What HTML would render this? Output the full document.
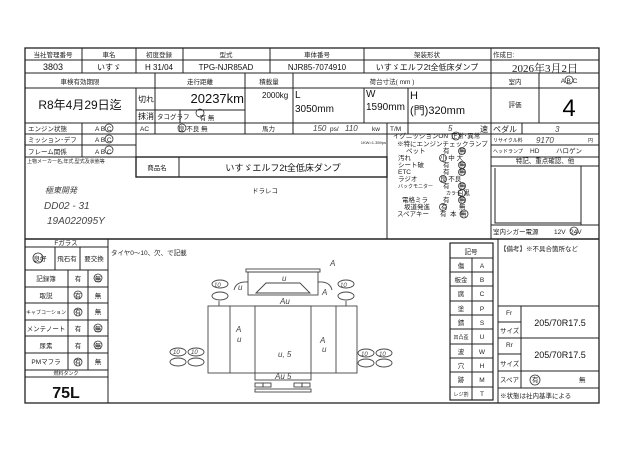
<!DOCTYPE html>
<html><head><meta charset="utf-8"><style>
html,body{margin:0;padding:0;background:#fff;}
svg{display:block;font-family:"Liberation Sans","Noto Sans CJK JP",sans-serif;}
.s{font-size:6.5px;fill:#222;}
.m{font-size:8px;fill:#111;}
.l{font-size:10px;fill:#111;}
.h{font-family:"Liberation Sans","Noto Sans CJK JP",sans-serif;fill:#444;font-style:italic;}
</style></head><body>
<svg width="640" height="453" viewBox="0 0 640 453" xmlns="http://www.w3.org/2000/svg">
<rect width="640" height="453" fill="#fff"/>
<g stroke="#222" stroke-width="1" fill="none">
<rect x="25" y="48" width="574" height="355" stroke-width="1.3"/>
<path d="M25 60H599M25 73H599M25 88H599M136 110H245M25 123H599M25 134H599M25 145H136M491 145H599M25 157H387M491 157H599M491 166H599M136 177H387M491 225H599"/>
<path d="M25 239H599" stroke-width="1.5"/>
<path d="M25 247H108M25 270H108M25 287H108M25 303H108M25 320H108M25 336H108M25 353H108M25 370H108M25 377H108"/>
<path d="M498 306H599M498 338H599M498 371H599M498 388H599M498 322H521M498 354H521"/>
<path d="M82 48V73M136 48V73M183 48V73M270 48V73M364 48V73M491 48V239M155 73V134M180 110V123M245 73V134M293 73V134M364 88V123M408 88V134M387 123V239M522 123V134M539 73V123M136 88V177M82 123V157"/>
<path d="M108 239V403M68 270V370M88 270V370M55 247V270M80 247V270M498 239V403M521 306V388"/>
<rect x="136" y="157" width="251" height="20" stroke-width="1.4"/>
<path d="M179 157V177"/>
<rect x="450" y="243" width="43" height="157" stroke-width="1.2"/>
<path d="M450 258H493M450 272H493M450 286H493M450 301H493M450 315H493M450 329H493M450 344H493M450 358H493M450 372H493M450 387H493M472 258V400"/>
<path d="M495 168V223H581M581 166V225"/>
<!-- truck -->
<g stroke="#444" stroke-width="0.9">
<rect x="208" y="306" width="149" height="67"/>
<path d="M230 306V373M336 306V373"/>
<rect x="255" y="306" width="56" height="74"/>
<rect x="248" y="272" width="70" height="23"/>
<rect x="246" y="269" width="74" height="3"/>
<path d="M256 293L266 283H300L310 293Z"/>
<rect x="255" y="383" width="8" height="4"/><rect x="263" y="383" width="8" height="4"/>
<rect x="294" y="383" width="8" height="4"/><rect x="302" y="383" width="8" height="4"/>
<rect x="255" y="389" width="56" height="3"/>
<path d="M219 301V306M346 301V306M234 290Q236 281 248 282M332 290Q330 281 318 282"/>
<ellipse cx="220" cy="284" rx="8" ry="4"/><ellipse cx="220" cy="296" rx="8" ry="4"/>
<ellipse cx="346" cy="284" rx="8" ry="4"/><ellipse cx="346" cy="296" rx="8" ry="4"/>
<ellipse cx="178" cy="352" rx="8" ry="4"/><ellipse cx="196" cy="352" rx="8" ry="4"/>
<ellipse cx="178" cy="362" rx="8" ry="4"/><ellipse cx="196" cy="362" rx="8" ry="4"/>
<ellipse cx="366" cy="353" rx="8" ry="4"/><ellipse cx="384" cy="353" rx="8" ry="4"/>
<ellipse cx="366" cy="363" rx="8" ry="4"/><ellipse cx="384" cy="363" rx="8" ry="4"/>
</g>
<!-- circles marks -->
<g stroke="#333" stroke-width="0.8">
<circle cx="109" cy="128" r="4"/><circle cx="109" cy="139" r="4"/><circle cx="109" cy="150" r="4"/>
<circle cx="182" cy="128" r="4"/><circle cx="200" cy="113" r="4"/><circle cx="569" cy="80" r="4"/>
<circle cx="456" cy="136" r="4"/><circle cx="462" cy="151" r="3.5"/><circle cx="443" cy="158" r="3.5"/>
<circle cx="462" cy="165" r="3.5"/><circle cx="462" cy="172" r="3.5"/><circle cx="443" cy="179" r="3.5"/>
<circle cx="462" cy="186" r="3.5"/><circle cx="462" cy="193" r="3.5"/><circle cx="462" cy="200" r="3.5"/>
<circle cx="443" cy="207" r="3.5"/><circle cx="464" cy="214" r="4"/><circle cx="574" cy="231" r="4"/>
<circle cx="38" cy="258" r="5"/><circle cx="98" cy="278" r="4"/><circle cx="78" cy="295" r="4"/>
<circle cx="78" cy="312" r="4"/><circle cx="98" cy="328" r="4"/><circle cx="98" cy="345" r="4"/>
<circle cx="78" cy="362" r="4"/><circle cx="535" cy="380" r="5"/>
</g>
</g>
<!-- header row -->
<g class="s" text-anchor="middle">
<text x="53" y="57">当社管理番号</text><text x="109" y="57">車名</text><text x="159" y="57">初度登録</text>
<text x="226" y="57">型式</text><text x="317" y="57">車体番号</text><text x="427" y="57">架装形状</text>
<text x="200" y="84">走行距離</text><text x="269" y="84">積載量</text><text x="392" y="84">荷台寸法( mm )</text>
<text x="515" y="84">室内</text><text x="80" y="84">車検有効期限</text>
</g>
<text class="s" x="493" y="57">作成日:</text>
<g class="m" text-anchor="middle">
<text x="53" y="70" font-size="9">3803</text><text x="109" y="70">いすゞ</text><text x="159" y="70">H 31/04</text>
<text x="226" y="70">TPG-NJR85AD</text><text x="317" y="70">NJR85-7074910</text><text x="427" y="70">いすゞエルフ2t全低床ダンプ</text>
</g>
<text x="545" y="72" text-anchor="middle" font-size="11" font-family="Liberation Serif,Noto Serif CJK JP,serif" fill="#222">2026年3月2日</text>
<text class="s" x="569" y="83" text-anchor="middle">A  B  C</text>
<text x="80" y="109" text-anchor="middle" font-size="12" fill="#111">R8年4月29日迄</text>
<text class="m" x="138" y="102">切れ</text><text class="m" x="138" y="119">抹消</text>
<text x="244" y="103" text-anchor="end" font-size="13" fill="#111">20237km</text>
<text class="s" x="157" y="119" font-size="5">タコグラフ</text><text class="s" x="207" y="120" text-anchor="middle">有 無</text>
<text class="m" x="262" y="98">2000kg</text>
<text class="l" x="295" y="98">L</text><text class="l" x="295" y="112">3050mm</text>
<text class="l" x="366" y="97">W</text><text class="l" x="366" y="110">1590mm</text>
<text x="410" y="99" font-size="11" fill="#111">H</text><text x="410" y="114" font-size="11" fill="#111">(門)320mm</text>
<text class="s" x="515" y="107" text-anchor="middle" font-size="7">評価</text>
<text x="569" y="116" text-anchor="middle" font-size="24" fill="#000">4</text>
<!-- ABC rows -->
<g class="s">
<text x="28" y="131">エンジン状態</text><text x="28" y="142">ミッション･デフ</text><text x="28" y="154">フレーム関係</text>
<text x="95" y="131">A  B  C</text><text x="95" y="142">A  B  C</text><text x="95" y="154">A  B  C</text>
<text x="140" y="131">AC</text><text x="178" y="131">良  不良  無</text><text x="262" y="131">馬力</text>
<text x="330" y="131">ps/</text><text x="372" y="131">kw</text><text x="390" y="131">T/M</text><text x="480" y="132" font-size="8">速</text>
<text x="493" y="132" font-size="8">ペダル</text>
<text x="493" y="142" font-size="5">リサイクル料</text><text x="588" y="142" font-size="5">円</text>
<text x="493" y="153" font-size="5">ヘッドランプ</text><text x="530" y="153">HD</text><text x="556" y="153">ハロゲン</text>
<text x="545" y="163" text-anchor="middle">特記、重点確認、他</text>
<text x="493" y="234">室内シガー電源</text><text x="554" y="234">12V</text><text x="570" y="234">24V</text>
<text x="386" y="144" text-anchor="end" font-size="4">1KW=1.359ps</text>
<text x="27" y="163" font-size="5">上物メーカー名,年式,型式及状態等</text>
<text x="157" y="170" text-anchor="middle">商品名</text>
<text x="252" y="193">ドラレコ</text>
</g>
<text x="283" y="171" text-anchor="middle" font-size="9" fill="#111">いすゞエルフ2t全低床ダンプ</text>
<g class="h" font-size="8">
<text x="313" y="131">150</text><text x="345" y="131">110</text><text x="448" y="131">5</text><text x="555" y="132">3</text>
<text x="536" y="143">9170</text>
<text x="45" y="193">極東開発</text><text x="44" y="209" font-size="10">DD02 - 31</text><text x="47" y="224" font-size="10">19A022095Y</text>
<text x="214" y="287" font-size="6">10</text><text x="340" y="287" font-size="6">10</text>
<text x="173" y="354" font-size="6">10</text><text x="191" y="354" font-size="6">10</text>
<text x="361" y="356" font-size="6">10</text><text x="379" y="356" font-size="6">10</text>
<text x="238" y="290">u</text><text x="282" y="281">u</text><text x="280" y="304">Au</text>
<text x="330" y="266">A</text><text x="322" y="295">A</text>
<text x="236" y="332">A</text><text x="237" y="342">u</text><text x="320" y="343">A</text><text x="322" y="352">u</text>
<text x="278" y="357">u, 5</text><text x="275" y="379">Au 5</text>
</g>
<!-- items list -->
<g class="s">
<text x="393" y="138">イグニッションON</text><text x="451" y="138">正常･異常</text>
<text x="397" y="146">※特にエンジンチェックランプ</text>
<text x="406" y="153">ペット</text><text x="443" y="153">有</text><text x="459" y="153">無</text>
<text x="398" y="160">汚れ</text><text x="440" y="160">小  中  大</text>
<text x="398" y="167">シート破</text><text x="443" y="167">有</text><text x="459" y="167">無</text>
<text x="398" y="174">ETC</text><text x="443" y="174">有</text><text x="459" y="174">無</text>
<text x="398" y="181">ラジオ</text><text x="440" y="181">良  不良</text>
<text x="398" y="188" font-size="5">バックモニター</text><text x="443" y="188">有</text><text x="459" y="188">無</text>
<text x="446" y="195" font-size="5">カラー</text><text x="457" y="195">白黒</text>
<text x="402" y="202">電格ミラ</text><text x="443" y="202">有</text><text x="459" y="202">無</text>
<text x="404" y="209">坂道発進</text><text x="441" y="209">有</text><text x="459" y="209">無</text>
<text x="397" y="216">スペアキー</text><text x="440" y="216">有</text><text x="450" y="216">本</text><text x="460" y="216">無</text>
</g>
<!-- lower left -->
<g class="s" text-anchor="middle" font-size="7">
<text x="66" y="245">Fガラス</text>
<text x="40" y="261">良好</text><text x="67" y="261">飛石有</text><text x="94" y="261">要交換</text>
<text x="46" y="281">記録簿</text><text x="78" y="281">有</text><text x="98" y="281">無</text>
<text x="46" y="298">取説</text><text x="78" y="298">有</text><text x="98" y="298">無</text>
<text x="46" y="314" font-size="5">キャブコーション</text><text x="78" y="314">有</text><text x="98" y="314">無</text>
<text x="46" y="331">メンテノート</text><text x="78" y="331">有</text><text x="98" y="331">無</text>
<text x="46" y="348">尿素</text><text x="78" y="348">有</text><text x="98" y="348">無</text>
<text x="46" y="364">PMマフラ</text><text x="78" y="364">有</text><text x="98" y="364">無</text>
<text x="66" y="375" font-size="5">燃料タンク</text>
</g>
<text x="66" y="398" text-anchor="middle" font-size="16" font-weight="bold" fill="#111">75L</text>
<text class="s" x="111" y="255" font-size="7">タイヤ0〜10、欠、で記載</text>
<!-- legend -->
<g class="s" text-anchor="middle" font-size="7">
<text x="471" y="254">記号</text>
<text x="461" y="268">傷</text><text x="482" y="268">A</text>
<text x="461" y="282">板金</text><text x="482" y="282">B</text>
<text x="461" y="296">腐</text><text x="482" y="296">C</text>
<text x="461" y="311">塗</text><text x="482" y="311">P</text>
<text x="461" y="325">錆</text><text x="482" y="325">S</text>
<text x="461" y="339" font-size="5">凹凸歪</text><text x="482" y="339">U</text>
<text x="461" y="354">波</text><text x="482" y="354">W</text>
<text x="461" y="368">穴</text><text x="482" y="368">H</text>
<text x="461" y="382">跡</text><text x="482" y="382">M</text>
<text x="461" y="396" font-size="5">レジ割</text><text x="482" y="396">T</text>
</g>
<g class="s" font-size="6">
<text x="500" y="251">【備考】※不具合箇所など</text>
<text x="506" y="315">Fr</text><text x="500" y="333">サイズ</text>
<text x="506" y="347">Rr</text><text x="500" y="366">サイズ</text>
<text x="500" y="382">スペア</text><text x="532" y="382">有</text><text x="579" y="382">無</text>
<text x="500" y="398">※状態は社内基準による</text>
</g>
<text x="560" y="326" text-anchor="middle" font-size="9" fill="#111">205/70R17.5</text>
<text x="560" y="358" text-anchor="middle" font-size="9" fill="#111">205/70R17.5</text>
</svg>
</body></html>
